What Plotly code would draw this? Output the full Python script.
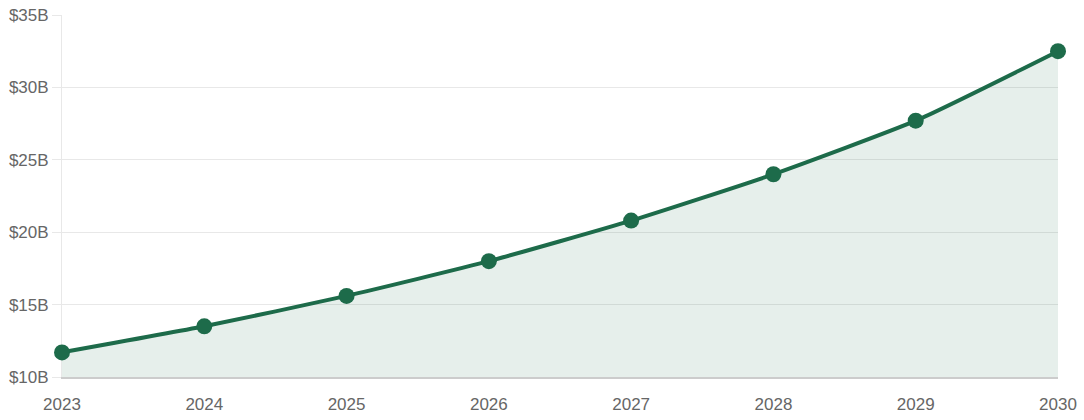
import plotly.graph_objects as go

years = ["2023", "2024", "2025", "2026", "2027", "2028", "2029", "2030"]
values = [11.7, 13.5, 15.6, 18.0, 20.8, 24.0, 27.7, 32.5]
y_ticks = [10, 15, 20, 25, 30, 35]
y_labels = ["$10B", "$15B", "$20B", "$25B", "$30B", "$35B"]

line_color = "#1d6b4a"

fig = go.Figure()
fig.add_trace(go.Scatter(
    x=list(range(len(years))), y=values,
    mode="lines+markers",
    line=dict(color=line_color, width=4, shape="spline", smoothing=0.5),
    marker=dict(size=16, color=line_color),
    fill="tozeroy", fillcolor="rgba(29,107,74,0.11)",
    hoverinfo="x+y",
    cliponaxis=False,
))

fig.update_layout(
    width=1084, height=420,
    margin=dict(l=62, r=26, t=15, b=43),
    paper_bgcolor="white", plot_bgcolor="white",
    showlegend=False,
    font=dict(family="Liberation Sans, Arial, sans-serif", size=17, color="#666666"),
)
fig.update_xaxes(
    range=[0, len(years) - 1],
    tickmode="array", tickvals=list(range(len(years))), ticktext=years,
    showgrid=False, zeroline=False,
    showline=True, linecolor="#cccccc", linewidth=1.5,
    ticks="outside", ticklen=11, tickcolor="rgba(0,0,0,0)",
    automargin=False, layer="below traces",
)
fig.update_yaxes(
    range=[10, 35],
    tickmode="array", tickvals=y_ticks, ticktext=y_labels,
    showgrid=True, gridcolor="#e8e8e8", gridwidth=1,
    zeroline=False,
    showline=True, linecolor="#e8e8e8", linewidth=1,
    ticks="outside", ticklen=9, tickcolor="#e8e8e8",
    automargin=False, layer="below traces",
)

fig.write_html(
    "out.html",
    config={"displayModeBar": False},
    post_script="document.body.style.margin='0';document.body.style.overflow='hidden';",
)
